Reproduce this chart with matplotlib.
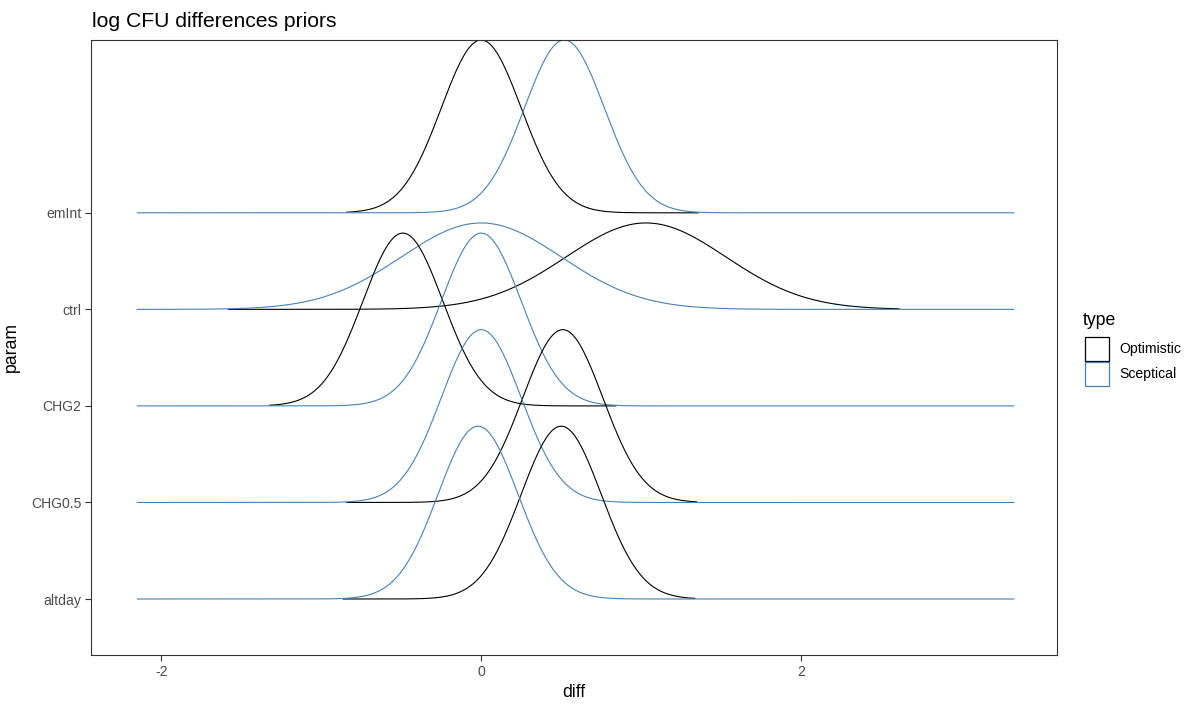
import numpy as np
import matplotlib
matplotlib.use("Agg")
import matplotlib.pyplot as plt
from matplotlib.patches import Rectangle

plt.rcParams['font.family'] = ['Liberation Sans', 'DejaVu Sans']

# priors (normal): mean and sd per param / type
params = ["altday", "CHG0.5", "CHG2", "ctrl", "emInt"]
types = ["Optimistic", "Sceptical"]
opt_mean = [0.50, 0.51, -0.49, 1.03, 0.00]
opt_sd = [0.25, 0.25, 0.25, 0.50, 0.25]
scep_mean = [-0.02, 0.00, 0.00, 0.00, 0.52]
scep_sd = [0.25, 0.25, 0.25, 0.50, 0.25]
x_from, x_to = -2.15, 3.33
x_ticks = [-2, 0, 2]

colors = {"Optimistic": "black", "Sceptical": "#4682B4"}
ridge_height = 1.79  # tallest ridge, in row units


def normal_pdf(x, mu, sd):
    return np.exp(-0.5 * ((x - mu) / sd) ** 2) / (sd * np.sqrt(2 * np.pi))


x = np.linspace(x_from, x_to, 512)
dens = {
    "Optimistic": [normal_pdf(x, m, s) for m, s in zip(opt_mean, opt_sd)],
    "Sceptical": [normal_pdf(x, m, s) for m, s in zip(scep_mean, scep_sd)],
}
dmax = max(d.max() for t in types for d in dens[t])

W, H = 1195, 704
fig = plt.figure(figsize=(W / 100, H / 100), dpi=100)
ax = fig.add_axes([91 / W, 1 - 655 / H, (1057 - 91) / W, (655 - 40) / H])

# top row first so lower rows sit on top; within a row the blue line
# covers the black one wherever both lie flat on the baseline
for i in reversed(range(len(params))):
    base = i + 1
    h_opt = dens["Optimistic"][i] / dmax * ridge_height
    h_scep = dens["Sceptical"][i] / dmax * ridge_height
    busy = np.where((h_opt > 0.006) | (h_scep > 0.006))[0]
    seg = slice(busy[0], busy[-1] + 1)
    ax.plot(x[seg], base + h_opt[seg], color=colors["Optimistic"], lw=0.8,
            solid_joinstyle='round')
    ax.plot(x, base + h_scep, color=colors["Sceptical"], lw=0.8,
            solid_joinstyle='round')

ax.set_xlim(-2.44, 3.6)
ax.set_ylim(0.42, 6.79)
ax.set_xticks(x_ticks)
ax.set_xticklabels([str(v) for v in x_ticks])
ax.set_yticks(range(1, len(params) + 1))
ax.set_yticklabels(params)

for s in ax.spines.values():
    s.set_color('#333333')
    s.set_linewidth(0.8)
ax.tick_params(axis='both', colors='#333333', length=4, width=0.8,
               labelsize=10.1, labelcolor='#4D4D4D', pad=3)

ax.set_xlabel("diff", fontsize=12.7, labelpad=4)
ax.set_ylabel("param", fontsize=12.7, labelpad=8)

fig.text(92 / W, 1 - 27 / H, "log CFU differences priors", fontsize=15.2,
         ha='left', va='baseline')

# legend drawn by hand to match the key boxes
fig.text(1083 / W, 1 - 325 / H, "type", fontsize=12.7, ha='left', va='baseline')
key_top = 337
key_w, key_h = 24, 24
for k, t in enumerate(types):
    top = key_top + k * (key_h + 1)
    fig.patches.append(Rectangle((1085 / W, 1 - (top + key_h) / H),
                                 key_w / W, key_h / H, transform=fig.transFigure,
                                 facecolor='white', edgecolor=colors[t], lw=0.9))
    fig.text(1119 / W, 1 - (top + key_h / 2) / H, t, fontsize=10.1,
             ha='left', va='center')

fig.savefig("out.png", dpi=100)
